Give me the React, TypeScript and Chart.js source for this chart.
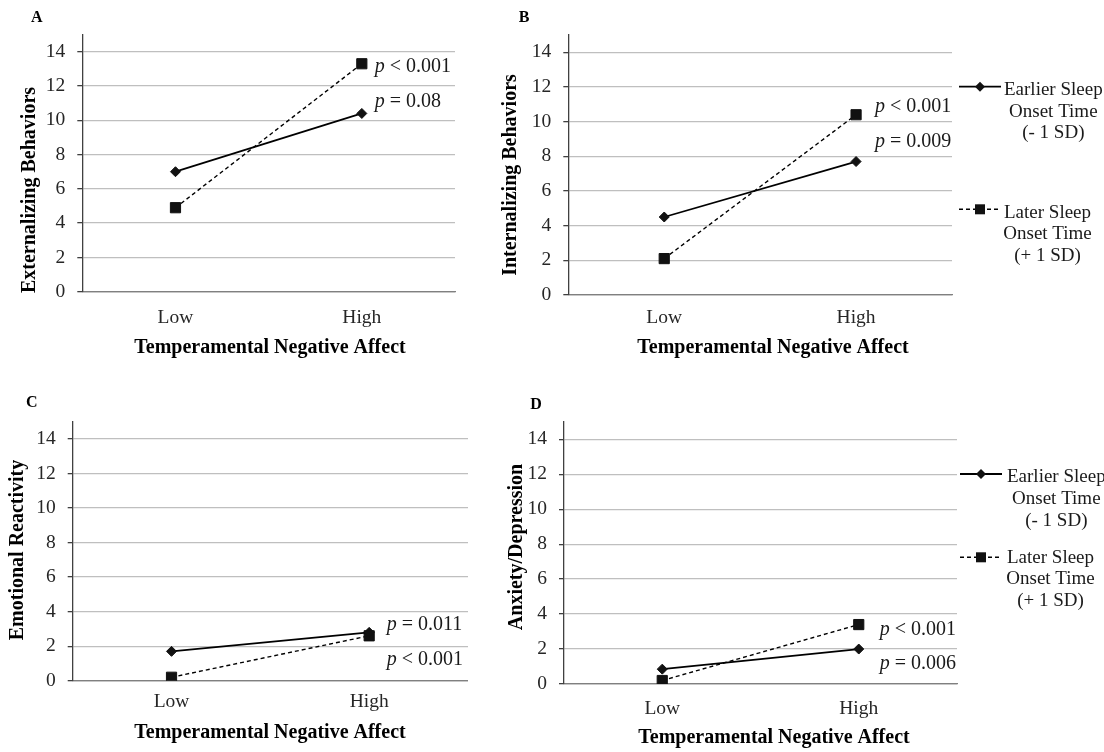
import React, { useEffect, useRef } from "react";
import { Chart, registerables } from "chart.js";

Chart.register(...registerables);

// ---------------- data ----------------
const CATEGORIES = ["Low", "High"];
const Y_TICKS = [0, 2, 4, 6, 8, 10, 12, 14];
const Y_MAX = 15;

const SERIES_NAMES = ["Earlier Sleep Onset Time (- 1 SD)", "Later Sleep Onset Time (+ 1 SD)"];

const A_EARLIER = [7.0, 10.4];
const A_LATER = [4.9, 13.3];
const B_EARLIER = [4.5, 7.7];
const B_LATER = [2.1, 10.4];
const C_EARLIER = [1.7, 2.8];
const C_LATER = [0.2, 2.6];
const D_EARLIER = [0.85, 2.0];
const D_LATER = [0.2, 3.4];

const A_P_TEXT = ["p < 0.001", "p = 0.08"];
const A_P_AT = [13.13, 11.09];
const B_P_TEXT = ["p < 0.001", "p = 0.009"];
const B_P_AT = [10.85, 8.85];
const C_P_TEXT = ["p = 0.011", "p < 0.001"];
const C_P_AT = [3.27, 1.24];
const D_P_TEXT = ["p < 0.001", "p = 0.006"];
const D_P_AT = [3.13, 1.18];

const Y_TITLES = ["Externalizing Behaviors", "Internalizing Behaviors", "Emotional Reactivity", "Anxiety/Depression"];
const X_TITLE = "Temperamental Negative Affect";
const PANEL_LETTERS = ["A", "B", "C", "D"];
const LEGEND_EARLIER = ["Earlier Sleep", "Onset Time", "(- 1 SD)"];
const LEGEND_LATER = ["Later Sleep", "Onset Time", "(+ 1 SD)"];

// ---------------- layout / style ----------------
const W = 1104;
const H = 752;
const FONT = '"Liberation Serif", "Times New Roman", Times, serif';
const TICK_SIZE = 19.5;
const P_SIZE = 20;
const LEGEND_SIZE = 19;
const TITLE_SIZE = 20;
const YAXIS_W = 40;
const XAXIS_H = 48;

type Legend = {
  lineX: [number, number];
  textLeft: number;
  earlierLineY: number;
  earlierTextY: number[];
  laterLineY: number;
  laterTextY: number[];
};

type Panel = {
  letter: string;
  yTitle: string;
  earlier: number[];
  later: number[];
  pText: string[];
  pAt: number[];
  area: { l: number; r: number; t: number; b: number };
  xTickY: number;
  xTitlePos: [number, number];
  yTitlePos: [number, number];
  letterPos: [number, number];
  pDx: number;
  legend: Legend | null;
};

const PANELS: Panel[] = [
  {
    letter: PANEL_LETTERS[0],
    yTitle: Y_TITLES[0],
    earlier: A_EARLIER,
    later: A_LATER,
    pText: A_P_TEXT,
    pAt: A_P_AT,
    area: { l: 82.3, r: 455, t: 34.6, b: 291.7 },
    xTickY: 318.3,
    xTitlePos: [270, 348],
    yTitlePos: [30, 190],
    letterPos: [36.7, 18.3],
    pDx: 13,
    legend: null,
  },
  {
    letter: PANEL_LETTERS[1],
    yTitle: Y_TITLES[1],
    earlier: B_EARLIER,
    later: B_LATER,
    pText: B_P_TEXT,
    pAt: B_P_AT,
    area: { l: 568.3, r: 952, t: 35, b: 295 },
    xTickY: 318.3,
    xTitlePos: [773, 348],
    yTitlePos: [511, 175],
    letterPos: [524, 18.3],
    pDx: 19,
    legend: {
      lineX: [959, 1001],
      textLeft: 1004,
      earlierLineY: 86.7,
      earlierTextY: [90, 111.7, 133.3],
      laterLineY: 209.3,
      laterTextY: [212.7, 234.5, 256.3],
    },
  },
  {
    letter: PANEL_LETTERS[2],
    yTitle: Y_TITLES[2],
    earlier: C_EARLIER,
    later: C_LATER,
    pText: C_P_TEXT,
    pAt: C_P_AT,
    area: { l: 72.7, r: 468, t: 421.8, b: 680.7 },
    xTickY: 701.7,
    xTitlePos: [270, 733],
    yTitlePos: [18.3, 550],
    letterPos: [31.7, 403],
    pDx: 17.5,
    legend: null,
  },
  {
    letter: PANEL_LETTERS[3],
    yTitle: Y_TITLES[3],
    earlier: D_EARLIER,
    later: D_LATER,
    pText: D_P_TEXT,
    pAt: D_P_AT,
    area: { l: 564, r: 957, t: 421.8, b: 684 },
    xTickY: 709,
    xTitlePos: [774, 738],
    yTitlePos: [516.8, 547],
    letterPos: [536, 405],
    pDx: 21,
    legend: {
      lineX: [960, 1002],
      textLeft: 1007,
      earlierLineY: 474,
      earlierTextY: [477.3, 499.3, 521.5],
      laterLineY: 557.3,
      laterTextY: [558.3, 579.5, 600.7],
    },
  },
];

function drawDiamond(ctx: CanvasRenderingContext2D, x: number, y: number, r: number) {
  ctx.beginPath();
  ctx.moveTo(x - r, y);
  ctx.lineTo(x, y - r);
  ctx.lineTo(x + r, y);
  ctx.lineTo(x, y + r);
  ctx.closePath();
  ctx.fill();
}

function makeTextPlugin(panel: Panel) {
  return {
    id: "panelText" + panel.letter,
    afterDraw(chart: any) {
      const ctx: CanvasRenderingContext2D = chart.ctx;
      ctx.save();
      ctx.fillStyle = "#000";
      ctx.textBaseline = "middle";

      // panel letter
      ctx.textAlign = "center";
      ctx.font = `bold 16px ${FONT}`;
      ctx.fillText(panel.letter, panel.letterPos[0], panel.letterPos[1]);

      // x title
      ctx.font = `bold ${TITLE_SIZE}px ${FONT}`;
      ctx.fillText(X_TITLE, panel.xTitlePos[0], panel.xTitlePos[1]);

      // y title
      ctx.save();
      ctx.translate(panel.yTitlePos[0], panel.yTitlePos[1]);
      ctx.rotate(-Math.PI / 2);
      ctx.fillText(panel.yTitle, 0, 0);
      ctx.restore();

      // p-values
      const xs = chart.scales.x;
      const ys = chart.scales.y;
      const x0 = xs.getPixelForValue(1) + panel.pDx;
      ctx.textAlign = "left";
      ctx.fillStyle = "#1a1a1a";
      panel.pText.forEach((t, i) => {
        const y = ys.getPixelForValue(panel.pAt[i]);
        ctx.font = `italic ${P_SIZE}px ${FONT}`;
        const first = t.charAt(0);
        ctx.fillText(first, x0, y);
        const w = ctx.measureText(first).width;
        ctx.font = `${P_SIZE}px ${FONT}`;
        ctx.fillText(t.slice(1), x0 + w, y);
      });

      // legend
      const lg = panel.legend;
      if (lg) {
        const ds = chart.data.datasets;
        const blocks = [
          { lines: LEGEND_EARLIER, lineY: lg.earlierLineY, textY: lg.earlierTextY, d: ds[0], dash: [] as number[] },
          { lines: LEGEND_LATER, lineY: lg.laterLineY, textY: lg.laterTextY, d: ds[1], dash: [4, 3] },
        ];
        blocks.forEach((b, bi) => {
          ctx.strokeStyle = "#000";
          ctx.lineWidth = b.d.borderWidth;
          ctx.setLineDash(b.dash);
          ctx.beginPath();
          ctx.moveTo(lg.lineX[0], b.lineY);
          ctx.lineTo(lg.lineX[1], b.lineY);
          ctx.stroke();
          ctx.setLineDash([]);
          const mx = (lg.lineX[0] + lg.lineX[1]) / 2;
          ctx.fillStyle = "#111";
          if (bi === 0) {
            drawDiamond(ctx, mx, b.lineY, 5);
          } else {
            ctx.fillRect(mx - 5, b.lineY - 5, 10, 10);
          }
          ctx.fillStyle = "#1a1a1a";
          ctx.font = `${LEGEND_SIZE}px ${FONT}`;
          const w0 = ctx.measureText(b.lines[0]).width;
          const cx = lg.textLeft + w0 / 2;
          ctx.textAlign = "center";
          b.lines.forEach((ln, li) => {
            ctx.fillText(ln, cx, b.textY[li]);
          });
        });
      }
      ctx.restore();
    },
  };
}

function buildConfig(panel: Panel): any {
  const a = panel.area;
  const tickLH = TICK_SIZE * 1.2;
  return {
    type: "line",
    data: {
      labels: CATEGORIES,
      datasets: [
        {
          label: SERIES_NAMES[0],
          data: panel.earlier,
          borderColor: "#000",
          borderWidth: 1.8,
          pointStyle: "rectRot",
          pointRadius: 5,
          pointBackgroundColor: "#111",
          pointBorderColor: "#111",
          pointBorderWidth: 1,
          fill: false,
          tension: 0,
        },
        {
          label: SERIES_NAMES[1],
          data: panel.later,
          borderColor: "#000",
          borderWidth: 1.4,
          borderDash: [4, 3],
          pointStyle: "rect",
          pointRadius: 7.2,
          pointBackgroundColor: "#111",
          pointBorderColor: "#111",
          pointBorderWidth: 1,
          fill: false,
          tension: 0,
        },
      ],
    },
    options: {
      responsive: false,
      animation: false,
      devicePixelRatio: window.devicePixelRatio || 1,
      events: [],
      layout: {
        autoPadding: false,
        padding: {
          left: a.l - YAXIS_W,
          top: a.t,
          right: W - a.r,
          bottom: H - a.b - XAXIS_H,
        },
      },
      plugins: {
        legend: { display: false },
        tooltip: { enabled: false },
        title: { display: false },
      },
      scales: {
        x: {
          type: "category",
          offset: true,
          afterFit: (s: any) => {
            s.height = XAXIS_H;
          },
          grid: { display: false, drawTicks: false },
          border: { display: true, color: "#808080", width: 1.3 },
          ticks: {
            padding: panel.xTickY - a.b - tickLH / 2,
            color: "#262626",
            maxRotation: 0,
            font: { family: FONT, size: TICK_SIZE },
          },
          title: { display: false },
        },
        y: {
          type: "linear",
          min: 0,
          max: Y_MAX,
          afterBuildTicks: (s: any) => {
            s.ticks = Y_TICKS.map((v) => ({ value: v }));
          },
          afterFit: (s: any) => {
            s.width = YAXIS_W;
          },
          grid: {
            color: (c: any) => (c.tick && c.tick.value === 0 ? "#808080" : "#bfbfbf"),
            lineWidth: 1.3,
            drawTicks: true,
            tickLength: 5,
            tickColor: "#404040",
            tickWidth: 1.3,
          },
          border: { display: true, color: "#404040", width: 1.3 },
          ticks: {
            padding: 12,
            color: "#262626",
            font: { family: FONT, size: TICK_SIZE },
          },
          title: { display: false },
        },
      },
    },
    plugins: [makeTextPlugin(panel)],
  };
}

function PanelChart({ panel }: { panel: Panel }) {
  const ref = useRef<HTMLCanvasElement | null>(null);
  useEffect(() => {
    if (!ref.current) return;
    const chart = new Chart(ref.current, buildConfig(panel));
    return () => chart.destroy();
  }, [panel]);
  return (
    <canvas
      ref={ref}
      width={W}
      height={H}
      style={{ position: "absolute", left: 0, top: 0, width: W, height: H }}
    />
  );
}

export default function App() {
  return (
    <div style={{ position: "absolute", left: 0, top: 0, width: W, height: H, background: "#fff", overflow: "hidden" }}>
      {PANELS.map((p) => (
        <PanelChart key={p.letter} panel={p} />
      ))}
    </div>
  );
}
